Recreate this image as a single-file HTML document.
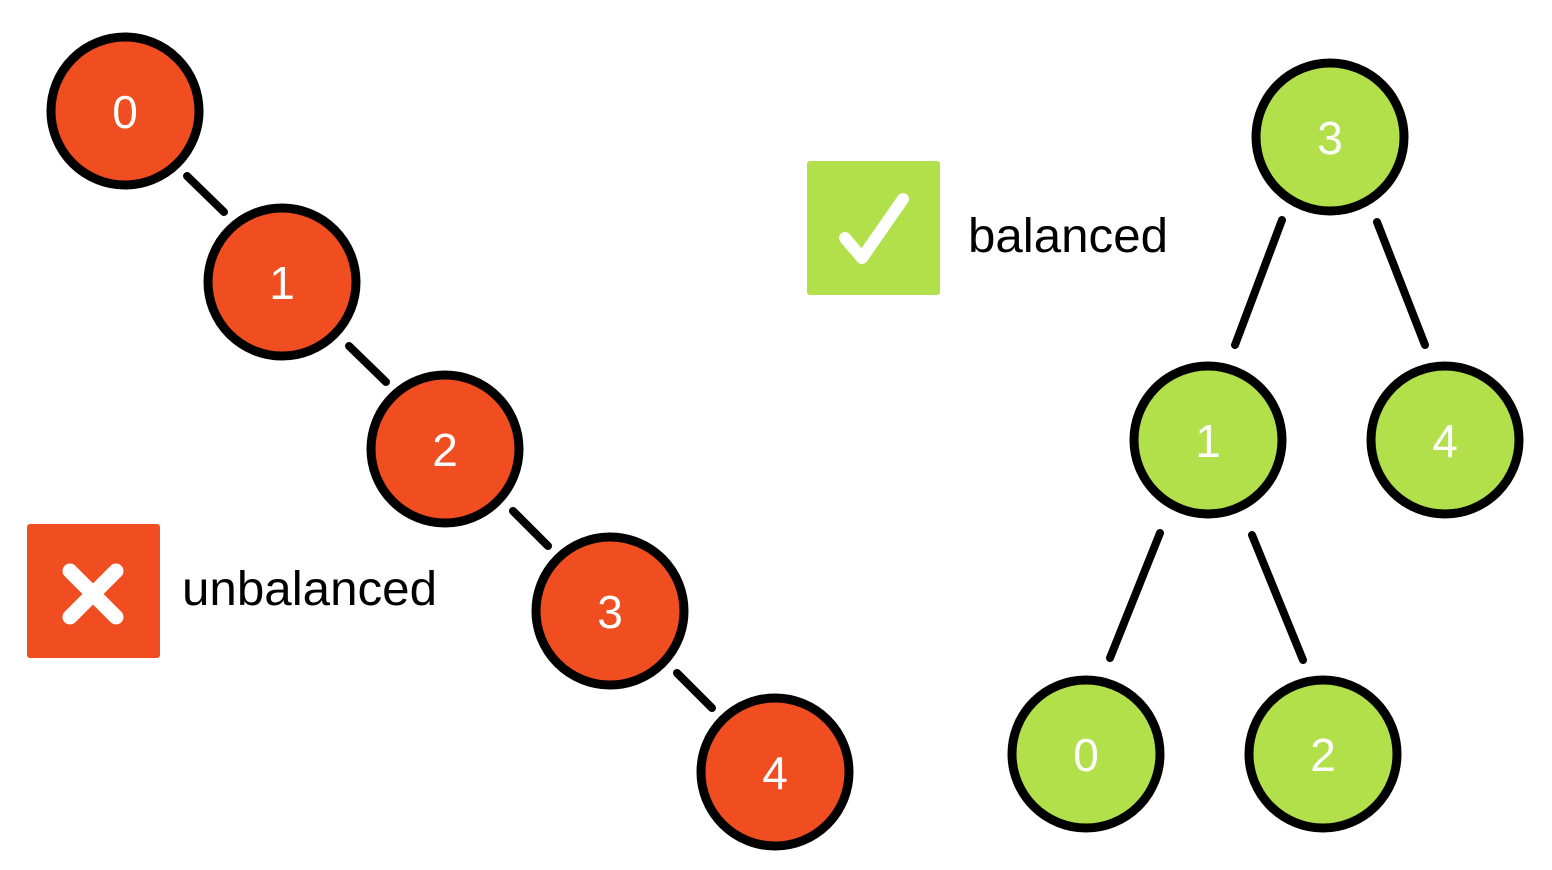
<!DOCTYPE html>
<html><head><meta charset="utf-8"><style>
html,body{margin:0;padding:0;background:#fff;}
svg{display:block;}
text{font-family:"Liberation Sans",sans-serif;}
</style></head><body>
<svg width="1552" height="870" viewBox="0 0 1552 870" xmlns="http://www.w3.org/2000/svg">
<g stroke="#000" stroke-width="8" stroke-linecap="round" fill="none">
<line x1="187" y1="176" x2="224" y2="212"/>
<line x1="349" y1="346" x2="386" y2="382"/>
<line x1="513" y1="511" x2="548" y2="546"/>
<line x1="677" y1="673" x2="712" y2="708"/>
<line x1="1282" y1="220" x2="1235" y2="345"/>
<line x1="1377" y1="222" x2="1425" y2="345"/>
<line x1="1160" y1="533" x2="1110" y2="658"/>
<line x1="1252" y1="535" x2="1303" y2="660"/>
</g>
<g stroke="#000" stroke-width="9" fill="#F04E21">
<circle cx="125" cy="111" r="74"/>
<circle cx="282" cy="282" r="74"/>
<circle cx="445" cy="449" r="74"/>
<circle cx="610" cy="611" r="74"/>
<circle cx="775" cy="772" r="74"/>
</g>
<g stroke="#000" stroke-width="9" fill="#B1E04A">
<circle cx="1330" cy="137" r="74"/>
<circle cx="1208" cy="440" r="74"/>
<circle cx="1445" cy="440" r="74"/>
<circle cx="1086" cy="754" r="74"/>
<circle cx="1323" cy="754" r="74"/>
</g>
<g fill="#fff" font-size="46" text-anchor="middle">
<text x="125" y="128">0</text>
<text x="282" y="299">1</text>
<text x="445" y="466">2</text>
<text x="610" y="628">3</text>
<text x="775" y="789">4</text>
<text x="1330" y="154">3</text>
<text x="1208" y="457">1</text>
<text x="1445" y="457">4</text>
<text x="1086" y="771">0</text>
<text x="1323" y="771">2</text>
</g>
<rect x="27" y="524" width="133" height="134" rx="3" fill="#F04E21"/>
<g stroke="#fff" stroke-width="15" stroke-linecap="round">
<line x1="70" y1="571" x2="116" y2="617"/>
<line x1="116" y1="571" x2="70" y2="617"/>
</g>
<rect x="807" y="161" width="133" height="134" rx="3" fill="#B1E04A"/>
<path d="M845 238 L862 258 L903 199" stroke="#fff" stroke-width="12" stroke-linecap="round" stroke-linejoin="round" fill="none"/>
<text x="182" y="605" font-size="48" fill="#000" textLength="255" lengthAdjust="spacingAndGlyphs">unbalanced</text>
<text x="968" y="252" font-size="48" fill="#000" textLength="200" lengthAdjust="spacingAndGlyphs">balanced</text>
</svg>
</body></html>
